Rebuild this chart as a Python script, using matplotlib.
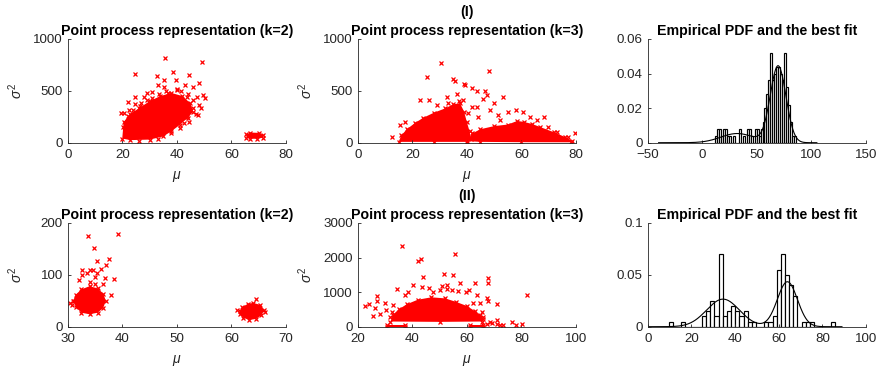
import numpy as np
import matplotlib
matplotlib.use("Agg")
import matplotlib.pyplot as plt
from matplotlib.ticker import FormatStrFormatter

plt.rcParams['font.family'] = ['Liberation Sans', 'DejaVu Sans']
plt.rcParams['mathtext.fontset'] = 'custom'
plt.rcParams['mathtext.it'] = 'Liberation Sans:italic'
plt.rcParams['mathtext.rm'] = 'Liberation Sans'

#---------------------------------------------------------------------------------------------
# Case (I), k=2 : (mu, sigma^2) point cloud -> dense cores + loose points
I_k2_cores = [
    [(20, 40), (23, 25), (30, 30), (35, 60), (38, 110), (41, 170), (44, 240), (46, 300),
     (45, 380), (42, 450), (38, 480), (34, 450), (30, 400), (26, 330), (23, 280), (20.5, 200)],
    [(65.5, 50), (67, 38), (69.5, 38), (71.5, 48), (71.7, 75), (70, 95), (67, 98), (65.5, 80)],
]
I_k2_pts = [(35.7, 813), (49.1, 781), (24.7, 662), (32.6, 643), (38.7, 685), (44.6, 649),
            (35.3, 604), (39.7, 604), (33.0, 556), (35.4, 534), (43.0, 556), (45.8, 534),
            (48.2, 572), (19.5, 283), (22.2, 392), (24.7, 444), (24.7, 373), (28.1, 444),
            (49.7, 460), (50.5, 434), (48.2, 363), (47.9, 267), (43.6, 251), (45.8, 412),
            (39.9, 508), (36.9, 482), (30.8, 492), (28.9, 476), (43.6, 444), (47.3, 444),
            (20.6, 283), (22.5, 320), (26.5, 350), (33.5, 470), (41.5, 500), (49.0, 330),
            (20.2, 150), (21.0, 60), (44.5, 200), (46.0, 330), (47.0, 280), (44.0, 470),
            (40.0, 520), (36.0, 500), (31.0, 430), (27.0, 380), (24.0, 320), (22.0, 260),
            (38.0, 95), (41.0, 140), (26.0, 20), (33.0, 40), (42.5, 190), (29.0, 410)]

# Case (I), k=3
I_k3_cores = [
    [(15, 8), (16, 70), (18, 130), (21, 190), (24, 240), (28, 290), (32, 330), (35, 370),
     (37.5, 380), (39, 300), (40, 200), (41, 110), (41.5, 40), (40, 8), (28, 8)],
    [(40, 15), (42, 90), (45, 130), (50, 160), (55, 175), (58.5, 210), (61, 200), (64, 180),
     (67, 150), (72, 100), (76, 55), (78.5, 20), (78, 4), (60, 5), (45, 8)],
]
I_k3_pts = [(30.5, 765), (25.3, 637), (35.0, 614), (35.7, 595), (48.2, 691), (39.3, 556),
            (38.9, 563), (41.8, 524), (43.6, 502), (46.6, 502), (47.3, 460), (53.4, 437),
            (49.9, 379), (58.2, 315), (63.1, 251), (68.3, 251), (79.6, 90), (12.7, 58),
            (15.5, 170), (17.3, 203), (22.8, 411), (26.3, 411), (32.6, 444), (36.3, 469),
            (38.7, 411), (46.0, 418), (48.5, 315), (43.6, 347), (41.8, 347), (40.5, 283),
            (51.5, 267), (55.2, 299), (60.7, 299), (65.6, 219), (69.8, 154), (72.9, 106),
            (77.2, 58), (29.0, 360), (33.0, 380), (37.0, 400), (44.0, 250), (52.0, 220)]

# Case (II), k=2
II_k2_cores = [
    [(31, 50), (31.5, 62), (32.5, 72), (34, 78), (35.5, 74), (36.5, 64), (37, 50),
     (36.5, 36), (35.5, 27), (34, 24), (32.5, 27), (31.5, 38)],
    [(61.5, 30), (62, 38), (63, 44), (64, 46), (65.3, 42), (66, 32), (65.5, 22),
     (64.5, 15), (63.3, 13), (62.2, 17), (61.6, 24)],
]
II_k2_pts = [(33.8, 175), (39.3, 178), (34.9, 152), (35.3, 126), (37.6, 130), (37.1, 119),
             (36.1, 112), (34.0, 109), (32.7, 109), (34.7, 109), (35.3, 104), (33.6, 103),
             (32.6, 99), (32.1, 90), (35.0, 96), (36.8, 93), (38.5, 92), (36.5, 83),
             (37.9, 61), (30.4, 45), (30.7, 42), (31.2, 49), (35.0, 83), (34.1, 87),
             (64.5, 54), (61.0, 33), (66.2, 29)]

# Case (II), k=3
II_k3_cores = [
    [(32, 150), (33, 350), (35, 500), (38, 650), (42, 780), (47, 850), (52, 820), (56, 720),
     (60, 600), (63, 450), (65, 330), (66, 220), (65.5, 150), (50, 140)],
    [(30.8, 2), (37.5, 2), (37.5, 60), (30.8, 60)],
    [(61, 2), (66, 2), (66, 60), (61, 60)],
]
II_k3_pts = [(36.1, 2327), (55.7, 2115), (43.2, 1971), (42.0, 1913), (51.7, 1538), (55.0, 1490),
             (44.1, 1442), (67.9, 1413), (67.7, 1269), (63.0, 1250), (57.5, 1250), (40.4, 1202),
             (81.9, 913), (22.7, 606), (24.2, 654), (27.2, 885), (27.0, 740), (26.4, 548),
             (30.0, 673), (25.7, 317), (28.2, 356), (30.3, 481), (32.5, 433), (34.5, 1087),
             (43.4, 1154), (46.0, 1125), (50.8, 1183), (52.7, 1202), (52.7, 1087), (56.9, 1029),
             (59.6, 1010), (60.8, 1058), (63.6, 913), (67.5, 817), (67.9, 740), (64.8, 673),
             (71.2, 644), (70.9, 192), (76.4, 144), (80.1, 67), (78.2, 48), (71.2, 67),
             (72.1, 48), (73.4, 48), (68.5, 144), (69.1, 96), (67.3, 67), (37.3, 913),
             (38.6, 1010), (47.7, 1010), (50.2, 1058), (54.4, 1058), (62.4, 673), (65.4, 433),
             (66.0, 288), (64.2, 240), (33.1, 625), (31.8, 288), (33.3, 240)]

# Empirical PDFs (bar heights) and fitted 2-component gaussian mixtures
I_bin_start, I_bin_width = 12.0, 1.8
I_pdf = [0.004, 0.008, 0.008, 0.004, 0.008, 0.008, 0.004, 0.004, 0.0, 0.004,
         0.0, 0.0, 0.008, 0.0, 0.004, 0.0, 0.008, 0.008, 0.004, 0.0,
         0.008, 0.008, 0.004, 0.008, 0.012, 0.02, 0.028, 0.036, 0.052, 0.036,
         0.04, 0.044, 0.044, 0.04, 0.036, 0.052, 0.032, 0.022, 0.012, 0.004, 0.004]
I_fit_w, I_fit_mu, I_fit_sd = [0.2, 0.8], [32.0, 69.5], [15.0, 7.2]
I_fit_range = (-40, 105)

II_bin_start, II_bin_width = 9.7, 1.9
II_pdf = [0.005, 0.0, 0.0, 0.005, 0.0, 0.0, 0.0, 0.0, 0.01, 0.015,
          0.025, 0.01, 0.07, 0.01, 0.015, 0.02, 0.015, 0.01, 0.015, 0.005,
          0.005, 0.0, 0.0, 0.005, 0.005, 0.01, 0.055, 0.07, 0.05, 0.04,
          0.03, 0.0, 0.005, 0.005, 0.005, 0.0, 0.0, 0.0, 0.0, 0.005]
II_fit_w, II_fit_mu, II_fit_sd = [0.5, 0.5], [34.5, 64.0], [7.5, 4.6]
II_fit_range = (0, 89)

#---------------------------------------------------------------------------------------------
# Figure layout
fig = plt.figure(figsize=(8.78, 3.70), dpi=100)
lefts = [0.0771, 0.4074, 0.7377]
w, h = 0.2486, 0.2803
rows = [0.6143, 0.1170]
axs = [[fig.add_axes([l, b, w, h]) for l in lefts] for b in rows]

grey = '#262626'
title_fs = 10.2
tick_fs = 9.6


def style(ax):
    for s in ['top', 'right']:
        ax.spines[s].set_visible(False)
    for s in ['left', 'bottom']:
        ax.spines[s].set_color(grey)
        ax.spines[s].set_linewidth(0.6)
    ax.tick_params(direction='in', length=2.5, width=0.6, colors=grey, labelsize=tick_fs)
    ax.tick_params(axis='x', pad=4.5)
    ax.tick_params(axis='y', pad=3.5)


def scatter_panel(ax, cores, pts, title, xlim, xticks, ylim, yticks):
    for poly in cores:
        p = np.array(poly)
        ax.fill(p[:, 0], p[:, 1], color='red', lw=0)
        ax.plot(p[:, 0], p[:, 1], 'x', color='red', ms=3, mew=0.9)
    p = np.array(pts)
    ax.plot(p[:, 0], p[:, 1], 'x', color='red', ms=3, mew=0.9)
    ax.set_xlim(xlim)
    ax.set_ylim(ylim)
    ax.set_xticks(xticks)
    ax.set_yticks(yticks)
    ax.set_title(title, fontsize=title_fs, fontweight='bold', pad=3)
    ax.set_xlabel(r'$\mu$', fontsize=10, color=grey)
    ax.set_ylabel(r'$\sigma^2$', fontsize=10, color=grey)
    ax.xaxis.set_label_coords(0.5, -0.25)
    ax.yaxis.set_label_coords(-0.195, 0.5)
    style(ax)


def pdf_panel(ax, start, width, heights, wts, mus, sds, xr, xlim, xticks, ylim, yticks):
    edges = start + width * np.arange(len(heights))
    ax.bar(edges, heights, width=width, align='edge', facecolor='white',
           edgecolor='black', linewidth=0.85)
    x = np.linspace(xr[0], xr[1], 500)
    y = np.zeros_like(x)
    for wt, m, s in zip(wts, mus, sds):
        y += wt * np.exp(-0.5 * ((x - m) / s) ** 2) / (s * np.sqrt(2 * np.pi))
    ax.plot(x, y, color='black', lw=0.8)
    ax.set_xlim(xlim)
    ax.set_ylim(ylim)
    ax.set_xticks(xticks)
    ax.set_yticks(yticks)
    ax.yaxis.set_major_formatter(FormatStrFormatter('%g'))
    ax.set_title('Empirical PDF and the best fit', fontsize=title_fs, fontweight='bold', pad=3)
    style(ax)


scatter_panel(axs[0][0], I_k2_cores, I_k2_pts, 'Point process representation (k=2)',
              (0, 80), [0, 20, 40, 60, 80], (0, 1000), [0, 500, 1000])
scatter_panel(axs[0][1], I_k3_cores, I_k3_pts, 'Point process representation (k=3)',
              (0, 80), [0, 20, 40, 60, 80], (0, 1000), [0, 500, 1000])
pdf_panel(axs[0][2], I_bin_start, I_bin_width, I_pdf, I_fit_w, I_fit_mu, I_fit_sd, I_fit_range,
          (-50, 150), [-50, 0, 50, 100, 150], (0, 0.06), [0, 0.02, 0.04, 0.06])

scatter_panel(axs[1][0], II_k2_cores, II_k2_pts, 'Point process representation (k=2)',
              (30, 70), [30, 40, 50, 60, 70], (0, 200), [0, 100, 200])
scatter_panel(axs[1][1], II_k3_cores, II_k3_pts, 'Point process representation (k=3)',
              (20, 100), [20, 40, 60, 80, 100], (0, 3000), [0, 1000, 2000, 3000])
pdf_panel(axs[1][2], II_bin_start, II_bin_width, II_pdf, II_fit_w, II_fit_mu, II_fit_sd, II_fit_range,
          (0, 100), [0, 20, 40, 60, 80, 100], (0, 0.1), [0, 0.05, 0.1])

fig.text(0.5316, 0.968, '(I)', ha='center', va='center', fontsize=title_fs, fontweight='bold')
fig.text(0.5316, 0.470, '(II)', ha='center', va='center', fontsize=title_fs, fontweight='bold')

fig.savefig('out.png', dpi=100)
